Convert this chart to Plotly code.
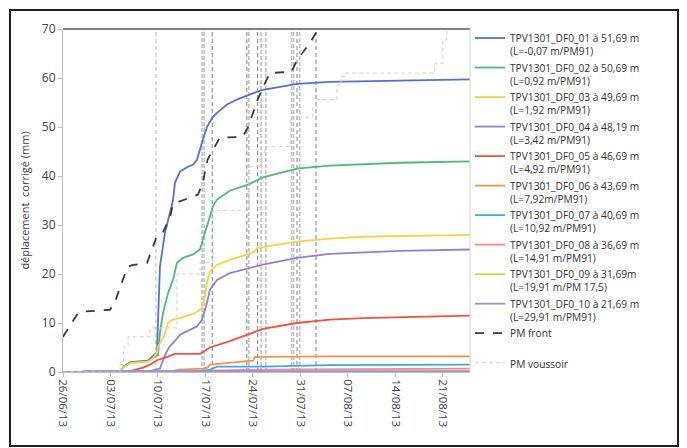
import datetime as dt
import plotly.graph_objects as go

START = dt.datetime(2013, 6, 26)
END_DAYS = 60

# ---- sensor series: elapsed days since 26/06/13 and corrected displacement (mm) ----
s01_days = [0, 8.3, 9.0, 9.9, 12.5, 13.3, 13.85, 14.29, 15.03, 16.21, 16.5, 17.24, 18.42, 19.16,
            19.75, 20.48, 21.22, 21.96, 22.7, 24.17, 25.64, 27.1, 29.47, 31.98, 34.48, 39.35, 49.66, 60]
s01_vals = [0, 0, 1.2, 2.0, 2.3, 3.2, 4.0, 21.5, 28.4, 35.0, 38.6, 40.9, 41.9, 42.3,
            43.3, 46.8, 50.0, 51.8, 52.9, 54.6, 55.6, 56.4, 57.6, 58.2, 58.8, 59.2, 59.5, 59.7]

s02_days = [0, 8.3, 9.0, 9.9, 12.5, 13.3, 14.0, 14.29, 14.74, 15.47, 16.21, 16.8, 17.68, 19.16,
            20.19, 20.93, 21.66, 22.1, 22.7, 24.6, 27.56, 29.47, 34.48, 39.35, 49.66, 60]
s02_vals = [0, 0, 1.1, 1.9, 2.2, 3.0, 3.4, 8.0, 12.0, 16.0, 18.8, 22.3, 23.3, 24.0,
            25.0, 28.4, 31.7, 33.8, 35.2, 37.0, 38.4, 39.7, 41.5, 42.1, 42.7, 43.0]

s03_days = [0, 8.3, 9.0, 9.9, 12.5, 13.3, 13.85, 14.0, 14.59, 14.9, 15.47, 16.21, 17.24, 19.45,
            20.48, 20.93, 21.22, 21.66, 22.7, 24.6, 27.1, 28.3, 28.6, 34.48, 39.35, 44.21, 60]
s03_vals = [0, 0, 1.0, 1.8, 2.1, 2.8, 4.0, 5.1, 6.6, 7.2, 10.0, 10.7, 11.0, 12.0,
            13.0, 15.4, 18.2, 20.5, 21.9, 22.9, 24.0, 24.6, 25.3, 26.6, 27.2, 27.6, 28.0]

s04_days = [0, 12.5, 14.29, 15.03, 15.77, 16.5, 17.24, 18.7, 19.75, 20.48, 21.22, 21.66, 22.7,
            24.6, 27.1, 29.47, 34.48, 39.35, 49.66, 60]
s04_vals = [0, 0.1, 0.7, 3.5, 5.3, 6.3, 7.6, 8.6, 9.3, 10.7, 14.1, 16.8, 18.8,
            20.2, 21.1, 21.9, 23.3, 24.1, 24.7, 25.0]

s05_days = [0, 8.3, 9.9, 11.8, 12.8, 14.0, 15.0, 16.5, 20.2, 20.93, 21.66, 24.6, 27.1, 29.47,
            34.48, 39.35, 44.21, 60]
s05_vals = [0, 0, 0.2, 0.9, 1.5, 2.5, 2.9, 3.7, 3.7, 4.3, 5.0, 6.3, 7.6, 8.8,
            10.0, 10.7, 11.0, 11.5]

s06_days = [0, 15.3, 17.2, 20.6, 21.3, 21.7, 27.1, 28.0, 28.3, 40, 60]
s06_vals = [0, 0, 0.5, 0.7, 0.9, 1.5, 2.2, 2.3, 3.1, 3.2, 3.2]

s07_days = [0, 16, 20.6, 21.66, 22.7, 29.47, 39.35, 60]
s07_vals = [0, 0, 0.3, 0.5, 1.1, 1.1, 1.4, 1.5]

s08_days = [0, 20, 22, 30, 60]
s08_vals = [0, 0, 0.3, 0.5, 0.7]

s09_days = [0, 20, 60]
s09_vals = [0, 0, 0.2]

s10_days = [0, 2.8, 3.2, 8, 60]
s10_vals = [0, 0, 0.25, 0.25, 0.1]

# ---- tunnel face position (PM front) and segment position (PM voussoir) ----
front_days = [0, 2.2, 2.8, 6.9, 7.6, 8.8, 9.6, 10.2, 12.4, 13.1, 13.8, 14.7, 15.8, 16.2, 16.8,
              19.9, 20.6, 21.3, 22.1, 23.1, 26.5, 27.3, 28.7, 29.5, 30.5, 33.7, 34.5, 36.4,
              37.6, 38.6]
front_vals = [7.2, 12.0, 12.3, 12.7, 14.0, 18.8, 21.5, 21.8, 22.3, 25.0, 27.6, 28.4, 31.7, 34.2,
              34.6, 36.2, 38.6, 43.3, 45.4, 47.8, 48.0, 50.0, 55.6, 58.2, 61.0, 61.3, 63.7,
              67.1, 70.0, 72.5]

vous_days = [0, 8.4, 8.9, 9.6, 12.8, 16.8, 20.2, 22.1, 27.4, 29.3, 29.8, 33.5, 36.8, 37.4,
             40.4, 41.0, 41.6, 54.8, 56.0, 56.6]
vous_vals = [0, 1.5, 5.1, 7.2, 9.0, 20.0, 22.3, 33.0, 42.0, 44.4, 46.0, 52.0, 54.0, 55.6,
             58.6, 60.3, 61.0, 63.0, 67.8, 72.0]

# ---- dated events drawn as vertical dashed markers ----
event_days = [13.7, 20.5, 20.8, 22.0, 27.1, 27.4, 28.7, 29.2, 29.9, 33.7, 34.0, 34.5, 34.9, 37.3]
event_kinds = ["violet", "grey", "grey", "dark", "dark", "grey", "dark", "grey", "grey",
               "grey", "grey", "dark", "grey", "dark"]

names = [
    "TPV1301_DF0_01 à 51,69 m<br>(L=-0,07 m/PM91)",
    "TPV1301_DF0_02 à 50,69 m<br>(L=0,92 m/PM91)",
    "TPV1301_DF0_03 à 49,69 m<br>(L=1,92 m/PM91)",
    "TPV1301_DF0_04 à 48,19 m<br>(L=3,42 m/PM91)",
    "TPV1301_DF0_05 à 46,69 m<br>(L=4,92 m/PM91)",
    "TPV1301_DF0_06 à 43,69 m<br>(L=7,92m/PM91)",
    "TPV1301_DF0_07 à 40,69 m<br>(L=10,92 m/PM91)",
    "TPV1301_DF0_08 à 36,69 m<br>(L=14,91 m/PM91)",
    "TPV1301_DF0_09 à 31,69m<br>(L=19,91 m/PM 17,5)",
    "TPV1301_DF0_10 à 21,69 m<br>(L=29,91 m/PM91)",
]
series = [(s01_days, s01_vals), (s02_days, s02_vals), (s03_days, s03_vals), (s04_days, s04_vals),
          (s05_days, s05_vals), (s06_days, s06_vals), (s07_days, s07_vals), (s08_days, s08_vals),
          (s09_days, s09_vals), (s10_days, s10_vals)]
colors = ["#5470d2", "#4fba7c", "#f5d443", "#9680cc", "#f0533c",
          "#f5924a", "#42a8dc", "#f38a84", "#c8d848", "#9a8fd8"]


def to_dates(days):
    return [START + dt.timedelta(days=d) for d in days]


fig = go.Figure()

for (days, vals), name, col in zip(series, names, colors):
    fig.add_trace(go.Scatter(x=to_dates(days), y=vals, mode="lines", name=name,
                             line=dict(color=col, width=1.8)))

fig.add_trace(go.Scatter(x=to_dates(front_days), y=front_vals, mode="lines",
                         name="PM front<br> ",
                         line=dict(color="#3a3a3a", width=1.8, dash="dash")))
fig.add_trace(go.Scatter(x=to_dates(vous_days), y=vous_vals, mode="lines",
                         name="PM voussoir", line_shape="hv",
                         line=dict(color="#dccfcc", width=1.0, dash="4px,3px")))

event_style = {
    "violet": dict(color="#b8b3e6", width=1.0, dash="4px,3px"),
    "grey": dict(color="#bdbdbd", width=1.5, dash="4px,2px"),
    "dark": dict(color="#808080", width=1.0, dash="4px,3px"),
}
for d, kind in zip(event_days, event_kinds):
    x = START + dt.timedelta(days=d)
    fig.add_shape(type="line", xref="x", yref="paper", x0=x, x1=x, y0=0, y1=1,
                  line=event_style[kind], layer="below")

# plot frame (top and right) and outer figure border
fig.add_shape(type="line", xref="paper", yref="paper", x0=0, x1=1, y0=1, y1=1,
              line=dict(color="#595959", width=1.5))
fig.add_shape(type="line", xref="paper", yref="paper", x0=1, x1=1, y0=0, y1=1,
              line=dict(color="#d4d4d4", width=1))
fig.add_shape(type="rect", xref="paper", yref="paper", x0=-0.1302, x1=1.511, y0=-0.2157, y1=1.0554,
              line=dict(color="#1e1e1e", width=2))

fig.update_layout(
    width=687, height=448,
    margin=dict(l=63, r=217, t=29, b=76),
    paper_bgcolor="white", plot_bgcolor="white",
    font=dict(family="Open Sans", color="#404040", size=11),
    showlegend=True,
    legend=dict(x=1.0, xanchor="left", y=1.012, yanchor="top", valign="top",
                font=dict(size=10.2, color="#333333", family="Open Sans"),
                bgcolor="rgba(0,0,0,0)", tracegroupgap=0, maxheight=440),
    xaxis=dict(type="date", range=[START, START + dt.timedelta(days=END_DAYS)],
               tick0=START, dtick=7 * 86400000, tickformat="%d/%m/%y", tickangle=90,
               ticks="outside", ticklen=4, tickcolor="#bfbfbf",
               showline=True, linecolor="#bfbfbf", showgrid=False, zeroline=False,
               tickfont=dict(size=11.5, color="#404040")),
    yaxis=dict(range=[0, 70], dtick=10, ticks="outside", ticklen=4, tickcolor="#bfbfbf",
               showline=True, linecolor="#bfbfbf", showgrid=False, zeroline=False,
               tickfont=dict(size=12, color="#404040"),
               title=dict(text="déplacement  corrigé (mm)", font=dict(size=11, color="#404040"),
                          standoff=10)),
)

fig.write_html("out.html")
